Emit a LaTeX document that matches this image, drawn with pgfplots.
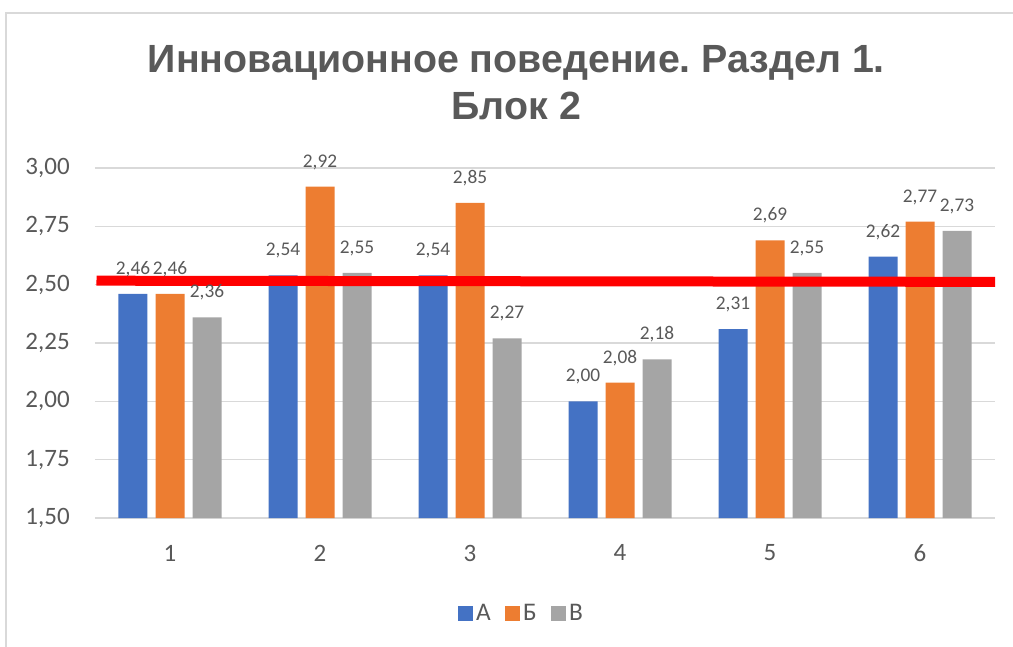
\documentclass[border=0pt]{standalone}
\usepackage{fontspec}
\setmainfont{Carlito}
\newfontfamily\titlefont{Liberation Sans}
\usepackage{pgfplots}
\pgfplotsset{compat=1.18}
\definecolor{cA}{HTML}{4472C4}
\definecolor{cB}{HTML}{ED7D31}
\definecolor{cC}{HTML}{A5A5A5}
\definecolor{txt}{HTML}{595959}
\definecolor{gridc}{HTML}{D9D9D9}
\frenchspacing
\begin{document}
\begin{tikzpicture}
\path[use as bounding box] (-71.25pt,-96pt) rectangle (688.5pt,388.5pt);
\draw[gridc, line width=1.5pt] (-66.75pt,-110pt) -- (-66.75pt,378.75pt) -- (700pt,378.75pt);
\node[text=txt, inner sep=0pt, anchor=base] at (316pt,333.75pt) {\titlefont\bfseries\fontsize{29.5}{34}\selectfont Инновационное поведение. Раздел 1.};
\node[text=txt, inner sep=0pt, anchor=base] at (316pt,298.5pt) {\titlefont\bfseries\fontsize{29.5}{34}\selectfont Блок 2};
\begin{axis}[
  at={(0pt,0pt)}, anchor=south west,
  scale only axis, width=675pt, height=262.5pt,
  xmin=0.5, xmax=6.5, ymin=1.5, ymax=3,
  xtick={1,2,3,4,5,6},
  ytick={1.5,1.75,2,2.25,2.5,2.75,3},
  ymajorgrids, grid style={gridc, line width=1.1pt},
  axis line style={draw=none},
  major tick length=0pt,
  /pgf/number format/.cd, use comma, fixed, fixed zerofill, precision=2, assume math mode=true,
  /pgfplots/.cd,
  xticklabel={\pgfmathprintnumber[fixed, precision=0, fixed zerofill=false]{\tick}},
  tick label style={font=\fontsize{18.75}{20}\selectfont, text=txt},
  yticklabel style={anchor=east, inner sep=0pt, xshift=-18.75pt},
  xticklabel style={anchor=north, inner sep=0pt, yshift=-20pt},
  ybar=6pt, bar width=21.75pt,
  every node near coord/.append style={font=\fontsize{14.5}{15}\selectfont, text=txt, anchor=south, inner sep=0pt, yshift=12.5pt},
  legend style={at={(0.4744,-0.272)}, anchor=center, draw=none, fill=none, legend columns=3,
    font=\fontsize{19}{20}\selectfont, text=txt,
    nodes={inner xsep=2.5pt},
    /tikz/every even column/.append style={column sep=8pt}},
  legend image code/.code={\path[#1] (0pt,-5.6pt) rectangle (11.25pt,5.6pt);},
]
\addplot[fill=cA, draw=none, nodes near coords] coordinates {(1,2.46) (2,2.54) (3,2.54) (4,2.00) (5,2.31) (6,2.62)};
\addplot[fill=cB, draw=none, nodes near coords] coordinates {(1,2.46) (2,2.92) (3,2.85) (4,2.08) (5,2.69) (6,2.77)};
\addplot[fill=cC, draw=none, nodes near coords] coordinates {(1,2.36) (2,2.55) (3,2.27) (4,2.18) (5,2.55) (6,2.73)};
\legend{А, Б, В}
\addplot[sharp plot, draw=red, line width=7.5pt, forget plot] coordinates {(0.51,2.517) (6.5,2.512)};
\end{axis}
\end{tikzpicture}
\end{document}
